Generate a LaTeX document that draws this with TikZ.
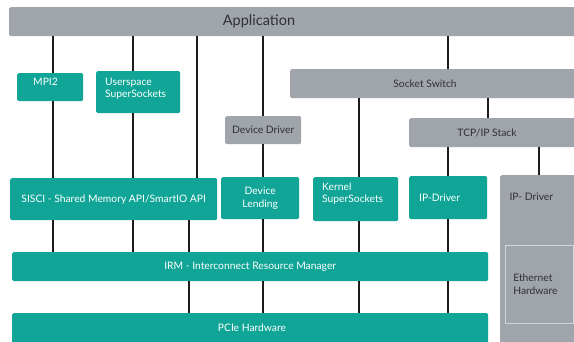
\documentclass[tikz,border=0pt]{standalone}
\usepackage{fontspec}
\setmainfont{Lato}
\definecolor{dfteal}{HTML}{10A596}
\definecolor{dfgray}{HTML}{A0A4AB}
\definecolor{dftext}{HTML}{2E3236}
\definecolor{dfline}{HTML}{1C1C1C}
\definecolor{dfedge}{HTML}{D2D5DA}
\newcommand{\dfdeep}[1]{\rule[-#1]{0pt}{#1}}
\tikzset{
  tbox/.style={fill=dfteal, text=white, rounded corners=1.5pt, anchor=north west,
    inner sep=0pt, font=\fontsize{10.3}{12.5}\selectfont},
  gbox/.style={tbox, fill=dfgray, text=dftext},
  wire/.style={line width=1.6pt, draw=dfline},
}
\begin{document}
\begin{tikzpicture}[x=1pt,y=-1pt]
\useasboundingbox[fill=white] (0,0) rectangle (574,342);

% columns of the wires
\coordinate (xa) at (53,0);
\coordinate (xb) at (133,0);
\coordinate (xc) at (197,0);
\coordinate (xd) at (189,0);
\coordinate (xe) at (263,0);
\coordinate (xf) at (359,0);
\coordinate (xg) at (448,0);
\coordinate (xh) at (488,0);
\coordinate (xi) at (539,0);

% top row
\node[gbox, minimum width=569, minimum height=29] (app) at (9,7) {};
\node[text=dftext, font=\fontsize{14.5}{16}\selectfont] (apptxt) at (259,21.5) {Application};

\node[tbox, minimum width=66, minimum height=28, text width=34, align=left] (mpi) at (17,73) {MPI2\dfdeep{11pt}};
\node[tbox, minimum width=84, minimum height=42, text width=66, align=left] (user) at (96,71) {Userspace\\SuperSockets\dfdeep{8.5pt}};
\node[gbox, minimum width=76, minimum height=28] (devdrv) at (225,116) {Device Driver};
\node[gbox, minimum width=288, minimum height=29] (sock) at (290,69) {};
\node[text=dftext, font=\fontsize{10.3}{12}\selectfont] (socktxt) at (425,83.5) {Socket Switch};
\node[gbox, minimum width=169, minimum height=29] (tcp) at (409,118) {};
\node[text=dftext, font=\fontsize{10.3}{12}\selectfont] (tcptxt) at (487,132.5) {TCP/IP Stack};

% middle row
\node[tbox, minimum width=207, minimum height=42] (sisci) at (10,178) {SISCI - Shared Memory API/SmartIO API};
\node[tbox, minimum width=78, minimum height=42, align=center] (devlend) at (221,177) {Device\\Lending};
\node[tbox, minimum width=85, minimum height=44, text width=67, align=left] (kernel) at (313,177) {Kernel\\SuperSockets\dfdeep{12.5pt}};
\node[tbox, minimum width=78, minimum height=43, text width=58, align=left] (ipdrv) at (409,176) {IP-Driver};
\node[gbox, minimum width=78, minimum height=170] (gdrv) at (500,175) {};
\node[text=dftext, font=\fontsize{10.3}{12}\selectfont, anchor=west] (gdrvtxt) at (506,197) {IP- Driver};
\node[gbox, draw=dfedge, line width=0.6pt, rounded corners=0pt, minimum width=68, minimum height=78,
  text width=52, align=left] (eth) at (505,245) {Ethernet\\Hardware};

% bottom rows
\node[tbox, minimum width=476, minimum height=29] (irm) at (12,252) {IRM - Interconnect Resource Manager};
\node[tbox, minimum width=476, minimum height=35] (pcie) at (12,313) {};
\node[text=white, font=\fontsize{10.3}{12}\selectfont] (pcietxt) at (252,328) {PCIe Hardware};

% wires from Application
\draw[wire] (app.south -| xa) -- (mpi.north -| xa);
\draw[wire] (app.south -| xb) -- (user.north -| xb);
\draw[wire] (app.south -| xc) -- (sisci.north -| xc);
\draw[wire] (app.south -| xe) -- (devdrv.north -| xe);
\draw[wire] (app.south -| xg) -- (sock.north -| xg);

\draw[wire] (mpi.south -| xa) -- (sisci.north -| xa);
\draw[wire] (user.south -| xb) -- (sisci.north -| xb);
\draw[wire] (devdrv.south -| xe) -- (devlend.north -| xe);
\draw[wire] (sock.south -| xf) -- (kernel.north -| xf);
\draw[wire] (sock.south -| xh) -- (tcp.north -| xh);
\draw[wire] (tcp.south -| xg) -- (ipdrv.north -| xg);
\draw[wire] (tcp.south -| xi) -- (gdrv.north -| xi);

% down to IRM and PCIe
\draw[wire] (sisci.south -| xa) -- (irm.north -| xa);
\draw[wire] (sisci.south -| xb) -- (irm.north -| xb);
\draw[wire] (sisci.south -| xd) -- (irm.north -| xd);
\draw[wire] (devlend.south -| xe) -- (irm.north -| xe);
\draw[wire] (kernel.south -| xf) -- (irm.north -| xf);
\draw[wire] (ipdrv.south -| xg) -- (irm.north -| xg);

\draw[wire] (irm.south -| xd) -- (pcie.north -| xd);
\draw[wire] (irm.south -| xe) -- (pcie.north -| xe);
\draw[wire] (irm.south -| xf) -- (pcie.north -| xf);
\draw[wire] (irm.south -| xg) -- (pcie.north -| xg);
\end{tikzpicture}
\end{document}
